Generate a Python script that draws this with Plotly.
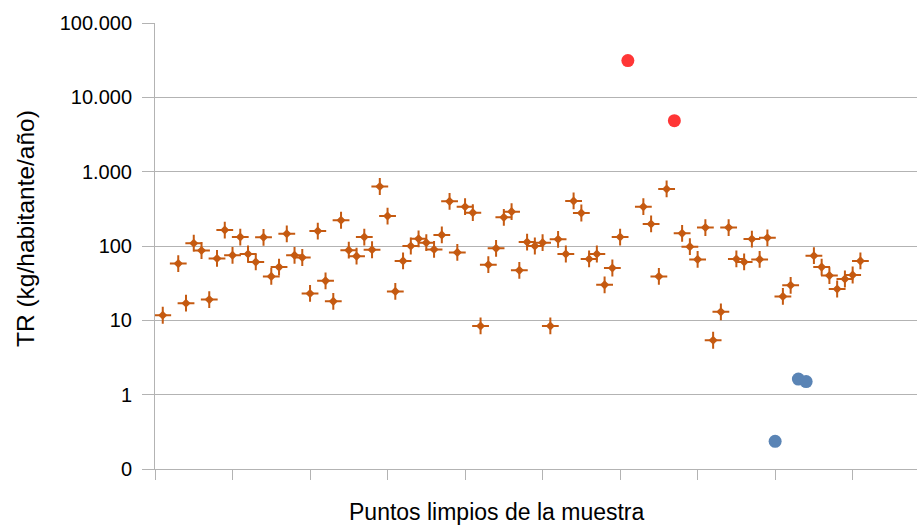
import plotly.graph_objects as go

# Sample index of each collection point (1..91)
puntos = list(range(1, 92))

# Waste per inhabitant per year (kg) for the regular points; None where the
# point is plotted in another series or has no value
tr_normal = [
    11.7, None, 58, 17, 109, 87, 19, 68, 164, 75,
    132, 78, 61, 131, 39, 52, 146, 75, 70, 23,
    159, 34, 18, 222, 88, 73, 132, 89, 632, 253,
    24.5, 63, 100, 125, 111, 90, 141, 399, 82, 338,
    281, 8.4, 56, 93, 243, 290, 47, 113, 100, 111,
    8.4, 123, 78, 404, 278, 67, 78, 30, 50.6, 132,
    None, None, 338, 198, 39, 585, None, 148, 98, 66,
    177, 5.4, 13, 177, 67, 61, 124, 66, 129, None,
    21, 29.6, None, None, 74, 52, 40, 26.4, 36, 40.7,
    63,
]

# High outliers
puntos_altos = [61, 67]
tr_altos = [31200, 4860]

# Low outliers
puntos_bajos = [80, 83, 84]
tr_bajos = [0.236, 1.62, 1.50]

# Logarithmic value axis labels (Spanish thousands separator)
y_ticks = [0.1, 1, 10, 100, 1000, 10000, 100000]
y_labels = ["0", "1", "10", "100", "1.000", "10.000", "100.000"]
x_ticks = list(range(0, 100, 10))

NARANJA = "#C55A11"
ROJO = "#FF3636"
AZUL = "#5A84B5"
GRIS = "#B3B3B3"
FUENTE = "Liberation Sans, Arial, sans-serif"

fig = go.Figure()

# Regular points: four-armed sparkle (cross arms + diamond core)
fig.add_trace(go.Scatter(
    x=puntos, y=tr_normal, mode="markers",
    marker=dict(symbol="cross-thin", size=12, color=NARANJA,
                line=dict(color=NARANJA, width=2)),
    showlegend=False, hoverinfo="x+y",
))
fig.add_trace(go.Scatter(
    x=puntos, y=tr_normal, mode="markers",
    marker=dict(symbol="diamond", size=7, color=NARANJA, line=dict(width=0)),
    showlegend=False, hoverinfo="skip",
))

fig.add_trace(go.Scatter(
    x=puntos_altos, y=tr_altos, mode="markers",
    marker=dict(symbol="circle", size=13, color=ROJO, line=dict(width=0)),
    showlegend=False,
))
fig.add_trace(go.Scatter(
    x=puntos_bajos, y=tr_bajos, mode="markers",
    marker=dict(symbol="circle", size=13, color=AZUL, line=dict(width=0)),
    showlegend=False,
))

fig.update_layout(
    width=918, height=525,
    margin=dict(l=155, r=1, t=23, b=56),
    paper_bgcolor="white", plot_bgcolor="white",
    font=dict(family=FUENTE, size=20, color="black"),
    xaxis=dict(
        range=[0, 98.3], tickvals=x_ticks, showticklabels=False,
        ticks="outside", ticklen=10, tickcolor=GRIS, tickwidth=1,
        showline=True, linecolor=GRIS, linewidth=1,
        showgrid=False, zeroline=False,
    ),
    yaxis=dict(
        type="log", range=[-1, 5],
        tickvals=y_ticks, ticktext=y_labels,
        ticks="outside", ticklen=12, tickcolor=GRIS, tickwidth=1,
        ticklabelstandoff=6,
        showline=True, linecolor=GRIS, linewidth=1,
        showgrid=True, gridcolor=GRIS, gridwidth=1,
        zeroline=False,
    ),
    annotations=[
        dict(text="Puntos limpios de la muestra", xref="paper", yref="paper",
             x=0.4488, y=-0.0964, xanchor="center", yanchor="middle",
             showarrow=False, font=dict(family=FUENTE, size=23)),
        dict(text="TR (kg/habitante/año)", xref="paper", yref="paper",
             x=-0.1706, y=0.538, xanchor="center", yanchor="middle",
             textangle=-90, showarrow=False,
             font=dict(family=FUENTE, size=24.5)),
    ],
)

fig.write_html("out.html")
